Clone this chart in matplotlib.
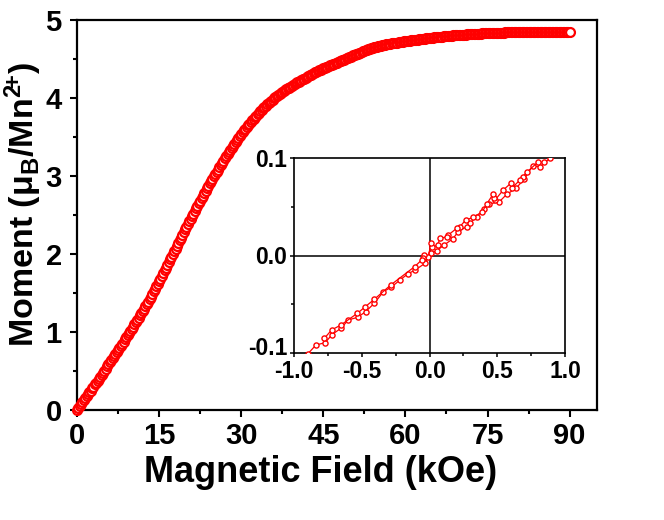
import numpy as np
import matplotlib
matplotlib.use("Agg")
import matplotlib.pyplot as plt
import matplotlib.transforms as mtransforms
from matplotlib.ticker import MultipleLocator, FormatStrFormatter

plt.rcParams['font.family'] = ['Liberation Sans', 'DejaVu Sans']
plt.rcParams['font.weight'] = 'bold'
plt.rcParams['axes.unicode_minus'] = False
plt.rcParams['mathtext.fontset'] = 'custom'
plt.rcParams['mathtext.rm'] = 'Liberation Sans:bold'
plt.rcParams['mathtext.it'] = 'Liberation Sans:bold'
plt.rcParams['mathtext.bf'] = 'Liberation Sans:bold'

# ---- main curve: field (kOe), 0.25 kOe steps, and moment (muB/Mn2+) ----
field = np.arange(0, 90.001, 0.25)
moment = [
    0.000, 0.025, 0.050, 0.075, 0.100, 0.125, 0.150, 0.175,
    0.200, 0.225, 0.250, 0.276, 0.301, 0.327, 0.352, 0.378,
    0.403, 0.429, 0.455, 0.480, 0.506, 0.532, 0.558, 0.584,
    0.610, 0.636, 0.663, 0.689, 0.715, 0.742, 0.769, 0.795,
    0.822, 0.849, 0.877, 0.904, 0.931, 0.959, 0.987, 1.014,
    1.042, 1.070, 1.099, 1.127, 1.155, 1.184, 1.213, 1.241,
    1.270, 1.300, 1.330, 1.360, 1.390, 1.423, 1.455, 1.488,
    1.520, 1.553, 1.585, 1.618, 1.650, 1.685, 1.720, 1.755,
    1.790, 1.825, 1.860, 1.895, 1.930, 1.965, 2.000, 2.035,
    2.070, 2.105, 2.140, 2.175, 2.210, 2.245, 2.280, 2.315,
    2.350, 2.384, 2.418, 2.451, 2.485, 2.519, 2.553, 2.586,
    2.620, 2.653, 2.685, 2.718, 2.750, 2.781, 2.813, 2.844,
    2.875, 2.905, 2.935, 2.965, 2.995, 3.024, 3.053, 3.081,
    3.110, 3.139, 3.168, 3.196, 3.225, 3.253, 3.280, 3.308,
    3.335, 3.361, 3.388, 3.414, 3.440, 3.465, 3.490, 3.515,
    3.540, 3.563, 3.585, 3.608, 3.630, 3.651, 3.673, 3.694,
    3.715, 3.735, 3.755, 3.775, 3.795, 3.814, 3.833, 3.851,
    3.870, 3.886, 3.903, 3.919, 3.935, 3.950, 3.965, 3.980,
    3.995, 4.009, 4.023, 4.036, 4.050, 4.063, 4.075, 4.088,
    4.100, 4.111, 4.123, 4.134, 4.145, 4.156, 4.168, 4.179,
    4.190, 4.200, 4.210, 4.220, 4.230, 4.240, 4.250, 4.260,
    4.270, 4.280, 4.290, 4.300, 4.310, 4.319, 4.328, 4.336,
    4.345, 4.354, 4.363, 4.371, 4.380, 4.388, 4.395, 4.403,
    4.410, 4.418, 4.425, 4.433, 4.440, 4.448, 4.455, 4.463,
    4.470, 4.478, 4.485, 4.493, 4.500, 4.508, 4.515, 4.523,
    4.530, 4.538, 4.545, 4.553, 4.560, 4.568, 4.575, 4.583,
    4.590, 4.598, 4.605, 4.613, 4.620, 4.626, 4.633, 4.639,
    4.645, 4.650, 4.655, 4.660, 4.665, 4.669, 4.673, 4.676,
    4.680, 4.684, 4.688, 4.691, 4.695, 4.698, 4.700, 4.703,
    4.705, 4.708, 4.710, 4.713, 4.715, 4.718, 4.722, 4.725,
    4.728, 4.731, 4.733, 4.736, 4.738, 4.741, 4.743, 4.746,
    4.748, 4.750, 4.753, 4.755, 4.757, 4.759, 4.762, 4.764,
    4.766, 4.768, 4.770, 4.772, 4.774, 4.776, 4.778, 4.780,
    4.782, 4.784, 4.786, 4.788, 4.790, 4.792, 4.794, 4.795,
    4.797, 4.799, 4.800, 4.802, 4.803, 4.805, 4.806, 4.808,
    4.809, 4.810, 4.812, 4.813, 4.814, 4.815, 4.817, 4.818,
    4.819, 4.820, 4.821, 4.822, 4.823, 4.824, 4.825, 4.826,
    4.827, 4.828, 4.829, 4.830, 4.831, 4.832, 4.833, 4.833,
    4.834, 4.835, 4.836, 4.836, 4.837, 4.838, 4.838, 4.839,
    4.839, 4.840, 4.840, 4.841, 4.841, 4.842, 4.842, 4.843,
    4.843, 4.843, 4.844, 4.844, 4.844, 4.844, 4.845, 4.845,
    4.845, 4.845, 4.846, 4.846, 4.846, 4.846, 4.847, 4.847,
    4.847, 4.847, 4.848, 4.848, 4.848, 4.848, 4.848, 4.848,
    4.848, 4.848, 4.849, 4.849, 4.849, 4.849, 4.849, 4.849,
    4.849, 4.849, 4.850, 4.850, 4.850, 4.850, 4.850, 4.850,
    4.845,
]

# ---- inset: low-field loop, two sweep branches ----
inset_up_field = [-0.901, -0.840, -0.771, -0.722, -0.655, -0.601, -0.532, -0.473,
                  -0.409, -0.342, -0.286, -0.219, -0.163, -0.108, -0.034, 0.007,
                  0.052, 0.106, 0.170, 0.212, 0.273, 0.298, 0.347, 0.404,
                  0.441, 0.515, 0.569, 0.638, 0.697, 0.761, 0.815, 0.889]
inset_up_moment = [-0.1007, -0.0915, -0.0891, -0.0809, -0.0744, -0.0659, -0.0632, -0.0574,
                   -0.0489, -0.0370, -0.0326, -0.0251, -0.0189, -0.0149, -0.0080, 0.0022,
                   0.0049, 0.0107, 0.0169, 0.0244, 0.0295, 0.0329, 0.0397, 0.0472,
                   0.0526, 0.0550, 0.0625, 0.0687, 0.0779, 0.0915, 0.0908, 0.0993]
inset_down_field = [0.845, 0.798, 0.722, 0.687, 0.667, 0.606, 0.599, 0.544,
                    0.483, 0.475, 0.470, 0.421, 0.389, 0.323, 0.266, 0.224,
                    0.200, 0.138, 0.130, 0.076, 0.059, 0.017, 0.010, -0.010,
                    -0.039, -0.052, -0.059, -0.111, -0.288, -0.409, -0.475, -0.534,
                    -0.655, -0.724, -0.778]
inset_down_moment = [0.0952, 0.0952, 0.0857, 0.0806, 0.0772, 0.0687, 0.0738, 0.0670,
                     0.0567, 0.0591, 0.0629, 0.0526, 0.0448, 0.0390, 0.0363, 0.0295,
                     0.0278, 0.0210, 0.0192, 0.0175, 0.0107, 0.0083, 0.0124, -0.0012,
                     0.0005, -0.0029, -0.0046, -0.0114, -0.0302, -0.0448, -0.0523, -0.0591,
                     -0.0710, -0.0761, -0.0847]

main_xticks = [0, 15, 30, 45, 60, 75, 90]
main_yticks = [0, 1, 2, 3, 4, 5]
inset_xticks = [-1.0, -0.5, 0.0, 0.5, 1.0]
inset_yticks = [-0.1, 0.0, 0.1]

RED = '#FF0000'

fig = plt.figure(figsize=(6.64, 5.20), dpi=100)
ax = fig.add_axes([77/664, 1-410/520, 520/664, 390/520])

ax.plot(field, moment, linestyle='none', marker='o', markersize=6.4,
        markeredgewidth=1.6, markeredgecolor=RED, markerfacecolor='white',
        clip_on=False, zorder=3)

ax.set_xlim(0, 95)
ax.set_ylim(0, 5)
ax.set_xticks(main_xticks)
ax.set_yticks(main_yticks)
ax.xaxis.set_minor_locator(MultipleLocator(7.5))
ax.yaxis.set_minor_locator(MultipleLocator(0.5))
ax.tick_params(which='major', direction='out', length=5, width=1.5,
               labelsize=21, top=False, right=False)
ax.tick_params(axis='x', which='major', pad=4)
ax.tick_params(axis='y', which='major', pad=6)
ax.tick_params(which='minor', direction='out', length=2.8, width=1.5,
               top=False, right=False)
for s in ax.spines.values():
    s.set_linewidth(1.6)
for lab in ax.get_xticklabels() + ax.get_yticklabels():
    lab.set_fontweight('bold')

ax.set_xlabel('Magnetic Field (kOe)', fontsize=26, fontweight='bold')
ax.set_ylabel('Moment (μ$_\\mathregular{B}$/Mn$^{\\mathregular{2}\\!\\mathregular{+}}$)',
              fontsize=24.5, fontweight='bold')
ax.xaxis.set_label_coords(0.469, -0.115)
ax.yaxis.set_label_coords(-0.063, 0.528)

# ---- inset ----
axi = fig.add_axes([294.3/664, 1-353.3/520, (565-294.3)/664, (353.3-157.7)/520])
axi.axhline(0, color='black', linewidth=1.1, zorder=1)
axi.axvline(0, color='black', linewidth=1.1, zorder=1)
for fx, my in ((inset_up_field, inset_up_moment), (inset_down_field, inset_down_moment)):
    axi.plot(fx, my, color=RED, linewidth=0.9, marker='o', markersize=3.7,
             markeredgewidth=1.0, markeredgecolor=RED, markerfacecolor='white', zorder=3)
axi.set_xlim(-1, 1)
axi.set_ylim(-0.1, 0.1)
axi.set_xticks(inset_xticks)
axi.set_yticks(inset_yticks)
axi.xaxis.set_minor_locator(MultipleLocator(0.25))
axi.yaxis.set_minor_locator(MultipleLocator(0.05))
axi.xaxis.set_major_formatter(FormatStrFormatter('%.1f'))
axi.yaxis.set_major_formatter(FormatStrFormatter('%.1f'))
axi.tick_params(which='major', direction='out', length=3, width=1.1, labelsize=16.5,
                top=False, right=False)
axi.tick_params(axis='x', which='major', pad=2)
axi.tick_params(axis='y', which='major', pad=2)
axi.tick_params(which='minor', direction='out', length=2, width=1.1, top=False, right=False)
for s in axi.spines.values():
    s.set_linewidth(1.2)
for lab in axi.get_xticklabels() + axi.get_yticklabels():
    lab.set_fontweight('bold')

# lift the lowest inset y label slightly so it clears the "-1.0" x label
fig.canvas.draw()
lift = mtransforms.ScaledTranslation(0, 5/72, fig.dpi_scale_trans)
for lab in axi.get_yticklabels():
    if lab.get_text() == '-0.1':
        lab.set_transform(lab.get_transform() + lift)

fig.savefig('out.png', dpi=100)
